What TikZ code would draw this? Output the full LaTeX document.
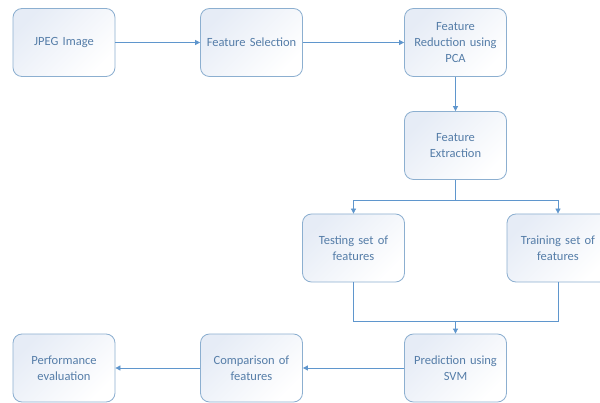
\documentclass[tikz,border=0pt]{standalone}
\usepackage{fontspec}
\setmainfont{Carlito}
\usetikzlibrary{arrows.meta}
\definecolor{boxline}{RGB}{140,175,208}
\definecolor{boxtext}{RGB}{85,125,168}
\definecolor{boxfill}{RGB}{230,236,246}
\definecolor{conn}{RGB}{95,150,205}
\tikzset{
  stepbox/.style={draw=boxline, line width=0.8pt, rounded corners=9pt,
    minimum width=102pt, minimum height=68pt, text width=98pt, align=center,
    top color=boxfill, bottom color=white, shading angle=45,
    text=boxtext, font=\fontsize{12.5}{16}\selectfont, inner sep=2pt},
  conline/.style={draw=conn, line width=0.8pt},
  conarrow/.style={conline, -{Triangle[length=5pt,width=5pt]}}
}
\begin{document}
\begin{tikzpicture}[x=1pt,y=1pt]
\useasboundingbox[fill=white] (0,0) rectangle (600,402);
\node[stepbox] (jpeg) at (64,359.5) {JPEG Image};
\node[stepbox] (sel) at (251.5,359.5) {Feature Selection};
\node[stepbox] (red) at (455.5,359.5) {Feature\\Reduction using\\PCA};
\node[stepbox] (ext) at (455.5,256.5) {Feature\\Extraction};
\node[stepbox] (test) at (353.5,154) {Testing set of\\features};
\node[stepbox] (train) at (558,154) {Training set of\\features};
\node[stepbox] (pred) at (455.5,34) {Prediction using\\SVM};
\node[stepbox] (comp) at (251.5,34) {Comparison of\\features};
\node[stepbox] (perf) at (64,34) {Performance\\evaluation};
\coordinate (split) at (455.5,202);
\coordinate (merge) at (455.5,81);
\draw[conarrow] (jpeg) -- (sel);
\draw[conarrow] (sel) -- (red);
\draw[conarrow] (red) -- (ext);
\draw[conline] (ext) -- (split);
\draw[conarrow] (split) -| (test);
\draw[conarrow] (split) -| (train);
\draw[conline] (test) |- (merge);
\draw[conline] (train) |- (merge);
\draw[conarrow] (merge) -- (pred);
\draw[conarrow] (pred) -- (comp);
\draw[conarrow] (comp) -- (perf);
\end{tikzpicture}
\end{document}
